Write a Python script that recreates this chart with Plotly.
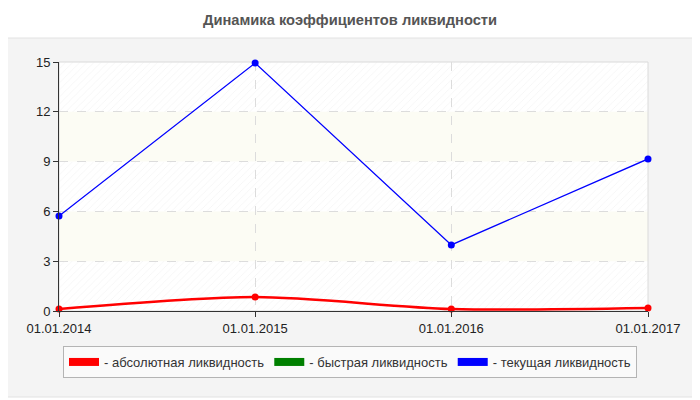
import pandas as pd
import plotly.graph_objects as go

# data
dates = ["2014-01-01", "2015-01-01", "2016-01-01", "2017-01-01"]
tick_labels = ["01.01.2014", "01.01.2015", "01.01.2016", "01.01.2017"]
absolute_liq = [0.12, 0.84, 0.12, 0.18]
quick_liq = [None, None, None, None]
current_liq = [5.72, 14.94, 3.98, 9.16]
y_ticks = [0, 3, 6, 9, 12, 15]

series_names = ["- абсолютная ликвидность", "- быстрая ликвидность", "- текущая ликвидность"]
series_colors = ["#ff0000", "#008000", "#0000ff"]

# page puts the figure 8px in from the top left corner
OFF = 8
W, H = 700, 400
ML, MT = 59 - OFF, 62 - OFF
pw, ph = 589, 249
MR = W - ML - pw
MB = H - MT - ph


def px_x(p):
    # screen x pixel -> paper coordinate
    return (p - OFF - ML) / pw


def px_y(p):
    # screen y pixel -> paper coordinate
    return (MT + ph - (p - OFF)) / ph


fig = go.Figure()

# hatched background bands (0-3, 6-9, 12-15)
x0 = pd.Timestamp(dates[0])
x1 = pd.Timestamp(dates[-1])
mid = x0 + (x1 - x0) / 2
span_ms = (x1 - x0).total_seconds() * 1000
for lo in y_ticks[0::2]:
    fig.add_trace(go.Bar(
        x=[mid], y=[y_ticks[1] - y_ticks[0]], base=[lo], width=[span_ms],
        marker=dict(color="rgba(0,0,0,0)", line=dict(width=0),
                    pattern=dict(shape="/", fgcolor="#e4e4e4", bgcolor="rgba(0,0,0,0)",
                                 size=5, solidity=0.12)),
        hoverinfo="skip", showlegend=False,
    ))

fig.add_trace(go.Scatter(
    x=dates, y=absolute_liq, mode="lines+markers", line_shape="spline",
    line=dict(color=series_colors[0], width=2.5, smoothing=0.8), marker=dict(size=7),
    cliponaxis=False, showlegend=False, name=series_names[0],
))
fig.add_trace(go.Scatter(
    x=dates, y=quick_liq, mode="lines+markers",
    line=dict(color=series_colors[1], width=1.5), marker=dict(size=7),
    cliponaxis=False, showlegend=False, name=series_names[1],
))
fig.add_trace(go.Scatter(
    x=dates, y=current_liq, mode="lines+markers",
    line=dict(color=series_colors[2], width=1.3), marker=dict(size=7),
    cliponaxis=False, showlegend=False, name=series_names[2],
))

# legend entries with block swatches
for name, col in zip(series_names, series_colors):
    fig.add_trace(go.Scatter(
        x=[None], y=[None], mode="lines", name=name,
        line=dict(color=col, width=8),
    ))

shapes = [
    # grey panel
    dict(type="rect", xref="paper", yref="paper", layer="below",
         x0=px_x(2), x1=px_x(697), y0=px_y(397), y1=px_y(38),
         fillcolor="#f4f4f4", line=dict(color="#e2e2e2", width=1)),
    # white plot area
    dict(type="rect", xref="paper", yref="paper", layer="below",
         x0=0, x1=1, y0=0, y1=1, fillcolor="white", line=dict(width=0)),
]
# pale yellow bands (3-6, 9-12)
for lo in y_ticks[1::2][:2]:
    shapes.append(dict(type="rect", xref="paper", yref="y", layer="below",
                       x0=0, x1=1, y0=lo, y1=lo + 3,
                       fillcolor="#fcfcf4", line=dict(width=0)))
# light frame top/right
shapes.append(dict(type="rect", xref="paper", yref="paper", layer="below",
                   x0=0, x1=1, y0=0, y1=1, line=dict(color="#dadada", width=1)))

fig.update_layout(
    width=W, height=H,
    margin=dict(l=ML, r=MR, t=MT, b=MB),
    paper_bgcolor="white", plot_bgcolor="white",
    font=dict(family="Liberation Sans, Arial, sans-serif", size=13, color="#222"),
    title=dict(text="<b>Динамика коэффициентов ликвидности</b>", x=px_x(350), xanchor="center",
               xref="paper", y=1 - (20 - OFF) / H, yanchor="middle",
               font=dict(family="Liberation Sans, Arial, sans-serif", size=14.7, color="#555")),
    barmode="overlay", bargap=0,
    shapes=shapes,
    showlegend=True,
    legend=dict(orientation="h", x=px_x(350), xanchor="center", y=px_y(346), yanchor="top",
                bgcolor="#fafafa", bordercolor="#b4b4b4", borderwidth=1,
                font=dict(size=13, color="#333"), itemwidth=30,
                tracegroupgap=0),
)
fig.update_xaxes(
    type="date", range=[dates[0], dates[-1]],
    tickvals=dates, ticktext=tick_labels,
    showline=True, linecolor="#333", linewidth=1,
    ticks="outside", ticklen=5, tickcolor="#333",
    showgrid=True, gridcolor="#dcdcdc", griddash="dash", gridwidth=1,
    zeroline=False, fixedrange=True,
)
fig.update_yaxes(
    range=[0, 15], tickvals=y_ticks,
    showline=True, linecolor="#333", linewidth=1,
    ticks="outside", ticklen=5, tickcolor="#333",
    showgrid=True, gridcolor="#dcdcdc", griddash="dash", gridwidth=1,
    zeroline=False, fixedrange=True,
)

fig.write_html("out.html")
